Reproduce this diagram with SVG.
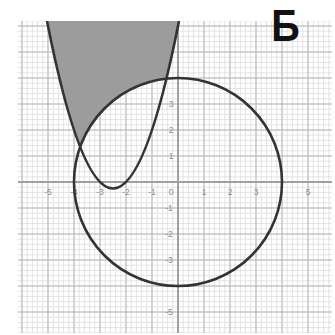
<svg xmlns="http://www.w3.org/2000/svg" width="335" height="335" viewBox="0 0 335 335">
  <defs>
    <pattern id="grid" patternUnits="userSpaceOnUse" x="165" y="169" width="26" height="26">
      <g stroke="#d9d9d9" stroke-width="0.7">
        <line x1="2.6" y1="0" x2="2.6" y2="26"/>
        <line x1="7.8" y1="0" x2="7.8" y2="26"/>
        <line x1="18.2" y1="0" x2="18.2" y2="26"/>
        <line x1="23.4" y1="0" x2="23.4" y2="26"/>
        <line x1="0" y1="2.6" x2="26" y2="2.6"/>
        <line x1="0" y1="7.8" x2="26" y2="7.8"/>
        <line x1="0" y1="18.2" x2="26" y2="18.2"/>
        <line x1="0" y1="23.4" x2="26" y2="23.4"/>
      </g>
      <g stroke="#bcbcbc" stroke-width="1.3">
        <line x1="13" y1="0" x2="13" y2="26"/>
        <line x1="0" y1="13" x2="26" y2="13"/>
      </g>
    </pattern>
    <clipPath id="area"><rect x="18" y="21" width="314" height="312"/></clipPath>
  </defs>
  <style>
    .lbl { font-family: "Liberation Sans", Arial, sans-serif; font-size: 8.5px; fill: #8a8a8a; }
    .curve { fill: none; stroke: #333; stroke-width: 2.6; }
  </style>
  <rect width="335" height="335" fill="#fff"/>
  <g id="grid-area">
    <rect x="18" y="21" width="314" height="312" fill="url(#grid)"/>
    <line x1="18" y1="182" x2="332" y2="182" stroke="#a0a0a0" stroke-width="2"/>
    <line x1="178" y1="21" x2="178" y2="333" stroke="#a0a0a0" stroke-width="2"/>
  </g>
  <g id="labels" class="lbl" text-anchor="middle">
    <text x="48" y="195">-5</text>
    <text x="74" y="195">-4</text>
    <text x="100" y="195">-3</text>
    <text x="126" y="195">-2</text>
    <text x="152" y="195">-1</text>
    <text x="171" y="195">0</text>
    <text x="204" y="195">1</text>
    <text x="230" y="195">2</text>
    <text x="256" y="195">3</text>
    <text x="308" y="195">5</text>
    <text x="171" y="107">3</text>
    <text x="171" y="133">2</text>
    <text x="171" y="159">1</text>
    <text x="169" y="211">-1</text>
    <text x="169" y="237">-2</text>
    <text x="169" y="263">-3</text>
    <text x="169" y="315">-5</text>
  </g>
  <g id="shaded">
    <path d="M47,21 Q63.56,105.07 80.11,146.87 A104,104 0 0 1 166.44,78.65 Q172.72,52.87 179,21 Z" fill="#9c9c9c"/>
  </g>
  <g id="curves" clip-path="url(#area)">
    <circle cx="178" cy="182" r="104" class="curve"/>
    <path d="M47,21 Q113,356 179,21" class="curve"/>
  </g>
  <g id="title">
    <text x="0" y="0" transform="translate(285.5,40.5) scale(0.9,1)" text-anchor="middle" font-family="Liberation Sans, Arial, sans-serif" font-weight="bold" font-size="44" fill="#111">Б</text>
  </g>
</svg>
